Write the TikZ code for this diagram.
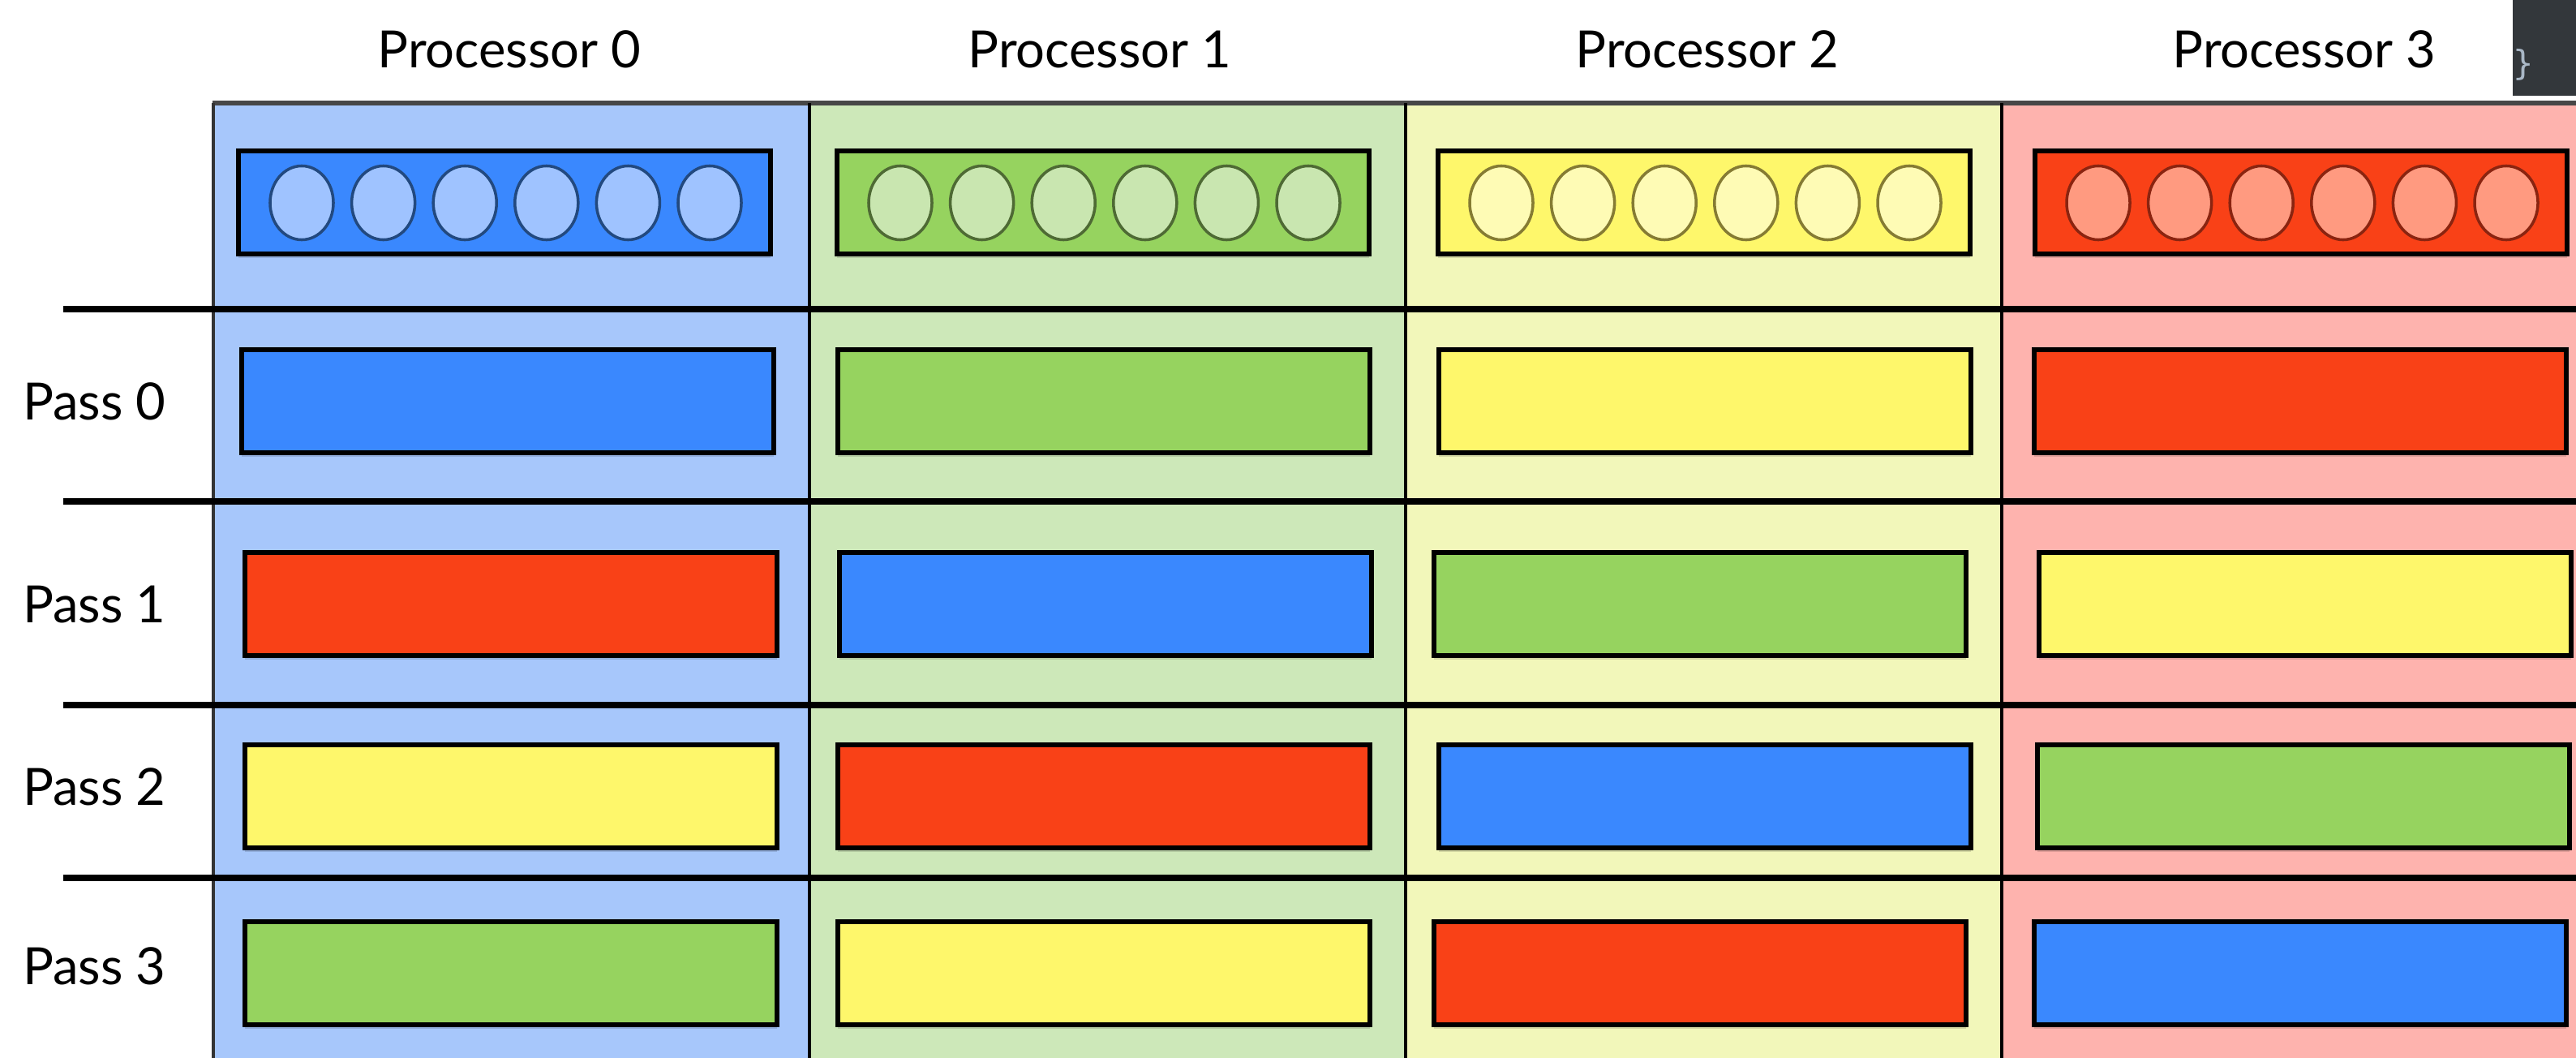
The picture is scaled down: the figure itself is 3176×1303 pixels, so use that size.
\documentclass[tikz,border=0pt]{standalone}
\usepackage{fontspec}
\setmainfont{Lato}
\setmonofont{DejaVu Sans Mono}

\definecolor{blueBg}{HTML}{A7C7FB}
\definecolor{blueBox}{HTML}{3A88FE}
\definecolor{blueDot}{HTML}{9FC3FF}
\definecolor{blueRim}{HTML}{22497F}
\definecolor{greenBg}{HTML}{CDE8B9}
\definecolor{greenBox}{HTML}{96D35F}
\definecolor{greenDot}{HTML}{C9E6B0}
\definecolor{greenRim}{HTML}{4E6A34}
\definecolor{yellowBg}{HTML}{F2F7BA}
\definecolor{yellowBox}{HTML}{FEF76B}
\definecolor{yellowDot}{HTML}{FEFBB5}
\definecolor{yellowRim}{HTML}{857B33}
\definecolor{redBg}{HTML}{FEB3AE}
\definecolor{redBox}{HTML}{F94117}
\definecolor{redDot}{HTML}{FF9A80}
\definecolor{redRim}{HTML}{8A2410}
\definecolor{editorBg}{HTML}{33373B}
\definecolor{editorText}{HTML}{A9B7C6}

% one block of data: (left, top){colour}
\def\pbox(#1,#2)#3{\fill[black,opacity=.12] (#1,#2+5) rectangle +(656,127);
  \draw[pbox,fill=#3Box] (#1,#2) rectangle +(656,127);}
% the six elements inside a block
\def\slots(#1,#2)#3{\foreach \k in {0,...,5}
  \draw[slot,fill=#3Dot,draw=#3Rim] ({#1+78+100.6*\k},#2) ellipse [x radius=0.39cm, y radius=0.455cm];}

\begin{document}
\begin{tikzpicture}[x=0.01cm, y=-0.01cm,
    pbox/.style={draw=black, line width=1.7pt},
    slot/.style={line width=1pt},
    rule/.style={line width=2.3pt, black},
    sep/.style={line width=1.1pt, black},
    head/.style={font=\fontsize{18}{20}\selectfont, anchor=base},
    passlabel/.style={font=\fontsize{18}{20}\selectfont, anchor=base west}]
	%%%%% START %%%%%
	\useasboundingbox (0,0) rectangle (3176,1303);
	\clip (0,0) rectangle (3176,1303);
	
	% processor columns
	\fill[blueBg] (263,127) rectangle (998,1310);
	\fill[greenBg] (998,127) rectangle (1733,1310);
	\fill[yellowBg] (1733,127) rectangle (2468,1310);
	\fill[redBg] (2468,127) rectangle (3203,1310);
	
	\draw[line width=1.7pt, black!72] (262,127) -- (3180,127);
	\draw[sep, black!80] (263,127) -- (263,1310);
	\draw[sep] (998,127) -- (998,1310);
	\draw[sep] (1733,127) -- (1733,1310);
	\draw[sep] (2468,127) -- (2468,1310);
	
	% row rules
	\draw[rule] (78,381) -- (3180,381);
	\draw[rule] (78,618) -- (3180,618);
	\draw[rule] (78,869) -- (3180,869);
	\draw[rule] (78,1082) -- (3180,1082);
	
	% local data
	\pbox(294,186){blue}   \slots(294,250){blue}
	\pbox(1032,186){green} \slots(1032,250){green}
	\pbox(1773,186){yellow}\slots(1773,250){yellow}
	\pbox(2509,186){red}   \slots(2509,250){red}
	
	% pass 0
	\pbox(298,431){blue}
	\pbox(1033,431){green}
	\pbox(1774,431){yellow}
	\pbox(2508,431){red}
	
	% pass 1
	\pbox(302,681){red}
	\pbox(1035,681){blue}
	\pbox(1768,681){green}
	\pbox(2514,681){yellow}
	
	% pass 2
	\pbox(302,918){yellow}
	\pbox(1033,918){red}
	\pbox(1774,918){blue}
	\pbox(2512,918){green}
	
	% pass 3
	\pbox(302,1136){green}
	\pbox(1033,1136){yellow}
	\pbox(1768,1136){red}
	\pbox(2508,1136){blue}
	
	% labels
	\node[head] (proc0) at (628,83) {Processor 0};
	\node[head] (proc1) at (1356,83) {Processor 1};
	\node[head] (proc2) at (2105,83) {Processor 2};
	\node[head] (proc3) at (2841,83) {Processor 3};
	
	\node[passlabel] (pass0) at (16,517) {Pass 0};
	\node[passlabel] (pass1) at (16,767) {Pass 1};
	\node[passlabel] (pass2) at (16,992) {Pass 2};
	\node[passlabel] (pass3) at (16,1213) {Pass 3};
	
	% editor corner
	\fill[editorBg] (3098,0) rectangle (3180,118);
	\node[text=editorText, font=\ttfamily\fontsize{12}{13}\selectfont] (brace) at (3111,80) {\}};
	
	%%%%% END %%%%%
\end{tikzpicture}
\end{document}
